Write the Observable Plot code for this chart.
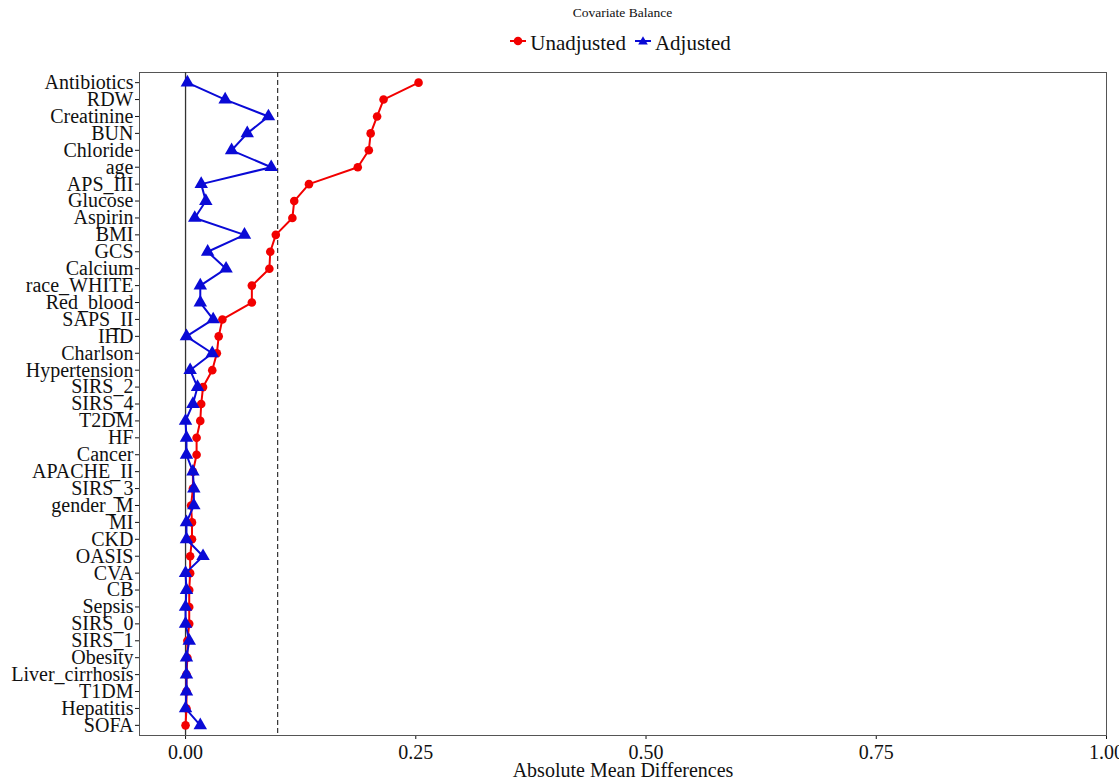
<!DOCTYPE html>
<html><head><meta charset="utf-8">
<script src="https://cdn.jsdelivr.net/npm/d3@7"></script>
<script src="https://cdn.jsdelivr.net/npm/@observablehq/plot@0.6"></script>
<style>
body{margin:0;background:#fff;font-family:"Liberation Serif",serif;color:#111;}
#head{position:relative;width:1119px;height:62px;}
#title{position:absolute;top:5px;left:139px;width:967px;text-align:center;font-size:13.5px;}
#legend{position:absolute;top:31px;left:139px;width:967px;display:flex;justify-content:center;align-items:center;font-size:21px;gap:3px;}
.key{display:inline-block;width:18px;height:18px;}
</style></head><body>
<div id="head">
  <div id="title">Covariate Balance</div>
  <div id="legend"></div>
</div>
<div id="chart"></div>
<script>
const covariates = ["Antibiotics","RDW","Creatinine","BUN","Chloride","age","APS_III","Glucose","Aspirin","BMI","GCS","Calcium","race_WHITE","Red_blood","SAPS_II","IHD","Charlson","Hypertension","SIRS_2","SIRS_4","T2DM","HF","Cancer","APACHE_II","SIRS_3","gender_M","MI","CKD","OASIS","CVA","CB","Sepsis","SIRS_0","SIRS_1","Obesity","Liver_cirrhosis","T1DM","Hepatitis","SOFA"];
const unadjusted = [0.253,0.215,0.208,0.201,0.199,0.187,0.134,0.118,0.116,0.098,0.092,0.091,0.072,0.072,0.040,0.036,0.034,0.029,0.019,0.017,0.016,0.012,0.012,0.008,0.008,0.006,0.007,0.007,0.005,0.005,0.004,0.004,0.004,0.002,0.002,0.001,0.001,0.001,0.000];
const adjusted = [0.002,0.043,0.090,0.067,0.050,0.093,0.017,0.022,0.010,0.064,0.024,0.044,0.016,0.016,0.030,0.001,0.029,0.005,0.013,0.008,0.000,0.001,0.001,0.008,0.009,0.009,0.001,0.001,0.019,0.000,0.001,0.000,0.000,0.004,0.001,0.001,0.001,0.000,0.016];
const xTicks = [0, 0.25, 0.5, 0.75, 1];
const threshold = 0.1;
const seriesNames = ["Unadjusted","Adjusted"];
const seriesColors = ["#f20000","#0a0ad6"];

const rows = covariates.map((c,i)=>({covariate:c, unadj:unadjusted[i], adj:adjusted[i]}));

// legend
const legend = document.getElementById("legend");
seriesNames.forEach((name,i)=>{
  const k = document.createElement("span");
  const shape = i===0
    ? `<circle cx="9" cy="9" r="4.3" fill="${seriesColors[i]}"/>`
    : `<path d="M9,4.2 L13.8,12.6 L4.2,12.6 Z" fill="${seriesColors[i]}"/>`;
  k.innerHTML = `<svg class="key" viewBox="0 0 18 18"><line x1="1" x2="17" y1="9" y2="9" stroke="${seriesColors[i]}" stroke-width="2"/>${shape}</svg>`;
  legend.appendChild(k);
  const t = document.createElement("span");
  t.textContent = name;
  t.style.marginRight = "5px";
  legend.appendChild(t);
});

const chart = Plot.plot({
  width:1119, height:718,
  marginTop:10, marginBottom:45, marginLeft:139, marginRight:13,
  style:{fontFamily:"Liberation Serif, serif", fontSize:"20px", background:"white", color:"#111"},
  x:{domain:[-0.05,1], ticks:xTicks, tickFormat:d3.format(".2f"), label:"Absolute Mean Differences", labelAnchor:"center", labelArrow:"none", labelOffset:41, tickSize:4},
  y:{type:"point", domain:covariates, padding:0.6, label:null, tickSize:4, tickPadding:2},
  marks:[
    Plot.frame({stroke:"#555"}),
    Plot.ruleX([0],{stroke:"#333", strokeWidth:1.3}),
    Plot.ruleX([threshold],{stroke:"#333", strokeWidth:1.2, strokeDasharray:"5,3"}),
    Plot.line(rows,{x:"unadj", y:"covariate", stroke:seriesColors[0], strokeWidth:2}),
    Plot.dot(rows,{x:"unadj", y:"covariate", fill:seriesColors[0], r:4.3}),
    Plot.line(rows,{x:"adj", y:"covariate", stroke:seriesColors[1], strokeWidth:2}),
    Plot.dot(rows,{x:"adj", y:"covariate", symbol:"triangle", fill:seriesColors[1], r:5})
  ]
});
document.getElementById("chart").appendChild(chart);
</script>
</body></html>
